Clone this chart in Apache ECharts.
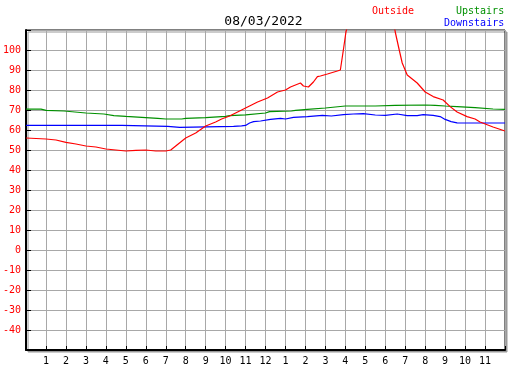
<!DOCTYPE html>
<html>
<head>
<meta charset="utf-8">
<script src="https://cdn.jsdelivr.net/npm/echarts@6/dist/echarts.min.js"></script>
<style>
  html, body { margin: 0; padding: 0; background: #fff; }
  #chart { width: 527px; height: 370px; }
</style>
</head>
<body>
<div id="chart"></div>
<script>
// readings as [hour of day, degrees]
var outside = [
  [0, 56], [1, 55.5], [1.5, 55], [2, 53.8], [2.5, 53], [3, 52], [3.5, 51.5], [4, 50.5],
  [4.5, 50], [5, 49.5], [5.5, 49.8], [6, 50], [6.5, 49.5], [7, 49.5], [7.25, 50],
  [7.5, 52], [7.75, 54], [8, 56], [8.5, 58.5], [9, 62], [9.5, 64], [9.8, 65.5],
  [10.2, 67], [10.8, 70], [11.3, 72.5], [11.6, 74], [12.1, 76], [12.6, 79], [13, 80],
  [13.25, 81.5], [13.75, 83.5], [13.9, 82], [14.15, 81.5], [14.4, 84], [14.6, 86.7],
  [14.75, 87], [15.1, 88], [15.6, 89.5], [15.75, 90], [15.9, 100], [16.03, 109],
  [16.1, 112], [17, 120], [18, 120], [18.45, 112], [18.5, 109], [18.7, 100],
  [18.85, 93.5], [19.1, 87.5], [19.6, 83.5], [20, 79], [20.4, 76.7], [20.9, 75],
  [21.25, 71.7], [21.6, 69], [22.1, 66.7], [22.5, 65.5], [22.75, 64], [23.4, 61.5], [24, 59.5]
]
var upstairs = [
  [0, 70.4], [0.75, 70.4], [1, 69.8], [1.9, 69.5], [2, 68.8], [3, 68.5], [3.1, 68],
  [3.9, 68], [4, 67.5], [4.4, 67.2], [5, 66.8], [5.1, 66.5], [6, 66.2], [6.1, 65.8],
  [6.6, 65.8], [7, 65.5], [7.8, 65.5], [8, 65.8], [9, 66.2], [9.1, 66.6], [10, 66.8],
  [10.2, 67.2], [11, 67.6], [11.1, 68.2], [12, 68.5], [12.2, 69.2], [13.3, 69.5],
  [13.5, 69.8], [14.1, 70.3], [15, 71], [15.5, 71.5], [16, 72], [17.5, 72], [18.5, 72.3],
  [20, 72.5], [20.5, 72.3], [21, 72], [21.6, 71.7], [22.5, 71.2], [23.4, 70.5], [24, 70.3]
]
var downstairs = [
  [0, 62.3], [4.8, 62.3], [4.9, 61.8], [7.1, 61.8], [7.15, 61.3], [7.7, 61.3], [7.8, 61.8],
  [10.4, 61.8], [10.5, 62.3], [10.8, 62.1], [11, 62.3], [11.2, 63.5], [11.4, 64.2],
  [11.75, 64.5], [12.25, 65.3], [12.75, 65.8], [13, 65.5], [13.4, 66.3], [14.1, 66.7],
  [14.85, 67.3], [15.3, 67], [15.9, 67.7], [16.4, 68], [16.9, 68.2], [17.5, 67.5],
  [18, 67.3], [18.6, 68], [19.1, 67.2], [19.6, 67.2], [19.9, 67.7], [20.4, 67.3],
  [20.75, 66.7], [21, 65.3], [21.3, 64.2], [21.6, 63.6], [24, 63.5]
]
var dateLabel = '08/03/2022'
var seriesNames = ['Outside', 'Upstairs', 'Downstairs']
var seriesColors = ['#ff0000', '#009000', '#0000ff']

var mono = 'DejaVu Sans Mono'
var chart = echarts.init(document.getElementById('chart'))

function hourLabel (h) {
  if (h <= 0 || h >= 24) return ''
  return String(h % 12 === 0 ? 12 : h % 12)
}

var lines = [outside, upstairs, downstairs].map(function (d, i) {
  return {
    name: seriesNames[i],
    type: 'line',
    data: d,
    showSymbol: false,
    clip: true,
    lineStyle: { color: seriesColors[i], width: 1.2 },
    itemStyle: { color: seriesColors[i] },
    z: 5 - i
  }
})

chart.setOption({
  animation: false,
  backgroundColor: '#fff',
  title: {
    text: dateLabel,
    left: 'center',
    top: 10,
    textStyle: { fontFamily: mono, fontSize: 13, fontWeight: 'normal', color: '#000' }
  },
  graphic: [
    { type: 'text', left: 372, top: 6, style: { text: seriesNames[0], fill: seriesColors[0], font: '10px ' + mono } },
    { type: 'text', left: 456, top: 6, style: { text: seriesNames[1], fill: seriesColors[1], font: '10px ' + mono } },
    { type: 'text', left: 444, top: 18, style: { text: seriesNames[2], fill: seriesColors[2], font: '10px ' + mono } }
  ],
  grid: {
    left: 25, top: 30, right: 22, bottom: 20,
    show: true,
    backgroundColor: '#fff',
    borderColor: '#000',
    borderWidth: 1,
    shadowColor: '#999',
    shadowBlur: 0,
    shadowOffsetX: 2,
    shadowOffsetY: 2
  },
  xAxis: {
    type: 'value',
    min: 0, max: 24, interval: 1,
    axisLine: { onZero: false, lineStyle: { color: '#000', width: 2 } },
    axisTick: { inside: true, length: 4, lineStyle: { color: '#000' } },
    axisLabel: { formatter: hourLabel, color: '#000', fontFamily: mono, fontSize: 10, margin: 6 },
    splitLine: { show: true, lineStyle: { color: '#a8a8a8', width: 1 } }
  },
  yAxis: {
    type: 'value',
    min: -50, max: 110, interval: 10,
    axisLine: { show: true, onZero: false, lineStyle: { color: '#000', width: 2 } },
    axisTick: { inside: true, length: 5, lineStyle: { color: '#000' } },
    axisLabel: {
      color: '#ff0000', fontFamily: mono, fontSize: 10, margin: 5,
      formatter: function (v) { return (v <= -50 || v >= 110) ? '' : String(v) }
    },
    splitLine: { show: true, lineStyle: { color: '#a8a8a8', width: 1 } }
  },
  series: lines
})
</script>
</body>
</html>
